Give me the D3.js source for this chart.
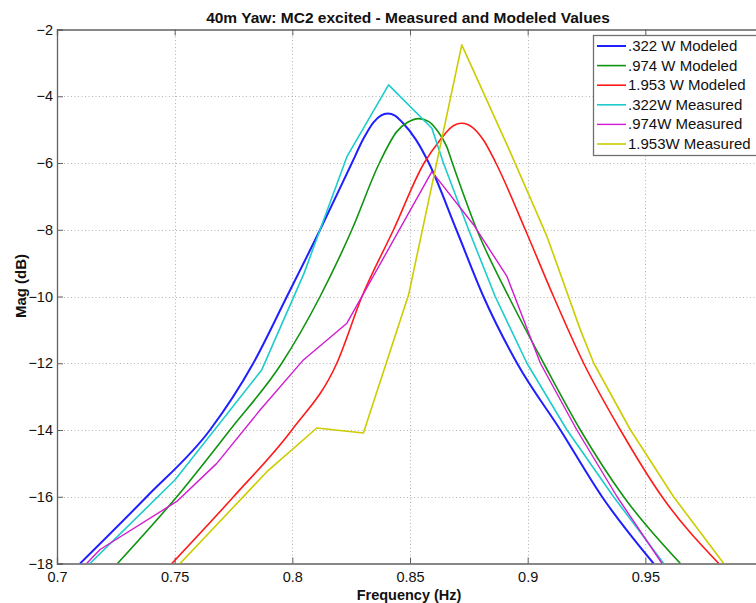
<!DOCTYPE html>
<html>
<head>
<meta charset="utf-8">
<script src="https://cdn.jsdelivr.net/npm/d3@7"></script>
<style>
  body { margin: 0; background: #fff; }
  svg { display: block; font-family: Arial, "Liberation Sans", sans-serif; }
</style>
</head>
<body>
<div id="container"></div>
<script>
// frequency (Hz) / magnitude (dB)
let blueF  = [0.7098, 0.7381, 0.7650, 0.7834, 0.7977, 0.8118, 0.8253, 0.8303, 0.8345, 0.8376, 0.8406, 0.8436, 0.8467, 0.8525, 0.8580, 0.8697, 0.8812, 0.8955, 0.9139, 0.9316, 0.9535];
let blueM  = [-18, -16, -14, -12, -10, -8, -6, -5.26, -4.78, -4.58, -4.52, -4.58, -4.78, -5.3, -6, -8, -10, -12, -14, -16, -18];
let greenF = [0.7257, 0.7509, 0.7735, 0.7955, 0.8118, 0.8253, 0.8370, 0.8444, 0.8490, 0.8537, 0.8580, 0.8614, 0.8656, 0.8680, 0.8784, 0.8919, 0.9068, 0.9224, 0.9408, 0.9649];
let greenM = [-18, -16, -14, -12, -10, -8, -6, -5.06, -4.78, -4.67, -4.76, -5.01, -5.51, -6, -8, -10, -12, -14, -16, -18];
let redF   = [0.7488, 0.7750, 0.7998, 0.8189, 0.8296, 0.8430, 0.8560, 0.8628, 0.8675, 0.8720, 0.8765, 0.8812, 0.8865, 0.8990, 0.9110, 0.9238, 0.9394, 0.9571, 0.9812];
let redM   = [-18, -16, -14, -12, -10, -8, -6, -5.31, -4.93, -4.81, -4.93, -5.31, -6, -8, -10, -12, -14, -16, -18];
let cyanF  = [0.7140, 0.7502, 0.7870, 0.8050, 0.8232, 0.8409, 0.8593, 0.8642, 0.8749, 0.8862, 0.8997, 0.9167, 0.9365, 0.9578];
let cyanM  = [-18, -15.49, -12.2, -9.3, -5.81, -3.66, -4.96, -6, -8, -10, -12, -14, -16, -18];
let magF   = [0.7126, 0.7183, 0.7509, 0.7679, 0.7863, 0.8047, 0.8232, 0.8593, 0.8770, 0.8912, 0.9054, 0.9209, 0.9380, 0.9571];
let magM   = [-18, -17.58, -16.14, -15.0, -13.4, -11.9, -10.8, -6.26, -7.85, -9.4, -12, -14, -16, -18];
let yelF   = [0.7523, 0.7892, 0.8104, 0.8302, 0.8494, 0.8720, 0.8919, 0.9082, 0.9224, 0.9281, 0.9437, 0.9620, 0.9833];
let yelM   = [-18, -15.25, -13.94, -14.09, -9.95, -2.46, -5.56, -8.2, -11.0, -12, -14, -16, -18];

let names  = [".322 W Modeled", ".974 W Modeled", "1.953 W Modeled", ".322W Measured", ".974W Measured", "1.953W Measured"];
let colors = ["#1f1fff", "#109410", "#ff1a1a", "#1ccccc", "#d21ad2", "#cccc00"];
let widths = [2, 1.6, 1.6, 1.6, 1.4, 1.6];
let smooth = [true, true, true, false, false, false];
let xTicks = [0.7, 0.75, 0.8, 0.85, 0.9, 0.95, 1.0];
let yTicks = [-18, -16, -14, -12, -10, -8, -6, -4, -2];

let series = [[blueF, blueM], [greenF, greenM], [redF, redM], [cyanF, cyanM], [magF, magM], [yelF, yelM]];

let w = 756, h = 603;
let pL = 57, pR = 763, pT = 29.5, pB = 563.5;

let svg = d3.select("#container").append("svg")
    .attr("width", w)
    .attr("height", h);

let x = d3.scaleLinear().domain([0.7, 1.0]).range([pL, pR]);
let y = d3.scaleLinear().domain([-18, -2]).range([pB, pT]);

svg.append("defs").append("clipPath").attr("id", "plotclip")
  .append("rect")
    .attr("x", pL).attr("y", pT)
    .attr("width", pR - pL).attr("height", pB - pT);

// grid
let grid = svg.append("g").attr("stroke", "#b4b4b4").attr("stroke-width", 1).attr("stroke-dasharray", "1,2.5");
grid.selectAll(".gx").data(xTicks.slice(1, -1)).join("line")
    .attr("x1", d => Math.round(x(d)) + 0.5).attr("x2", d => Math.round(x(d)) + 0.5)
    .attr("y1", pT).attr("y2", pB);
grid.selectAll(".gy").data(yTicks.slice(1, -1)).join("line")
    .attr("y1", d => Math.round(y(d)) + 0.5).attr("y2", d => Math.round(y(d)) + 0.5)
    .attr("x1", pL).attr("x2", pR);

// axes (the 1.0 label falls off the right edge in the original)
let xAx = d3.axisBottom(x).tickValues(xTicks).tickSize(-6).tickPadding(8).tickFormat(d => d === 1 ? "" : String(d));
let yAx = d3.axisLeft(y).tickValues(yTicks).tickSize(-6).tickPadding(4);

svg.append("g").attr("transform", `translate(0,${pB})`).call(xAx);
svg.append("g").attr("transform", `translate(${pL},0)`).call(yAx);
svg.append("g").attr("transform", `translate(0,${pT})`)
    .call(d3.axisTop(x).tickValues(xTicks).tickSize(-6).tickFormat(""));
svg.selectAll(".domain").attr("stroke", "#606060").attr("stroke-width", 1.3);
svg.selectAll(".tick line").attr("stroke", "#606060");
svg.selectAll(".tick text").attr("font-size", 14.5).attr("fill", "#111").attr("font-family", "Arial, 'Liberation Sans', sans-serif");

// curves
let plot = svg.append("g").attr("clip-path", "url(#plotclip)");
series.forEach((s, i) => {
  let pts = s[0].map((f, k) => [f, s[1][k]]);
  let line = d3.line()
      .x(d => x(d[0]))
      .y(d => y(d[1]))
      .curve(smooth[i] ? d3.curveMonotoneX : d3.curveLinear);
  plot.append("path")
      .datum(pts)
      .attr("d", line)
      .attr("fill", "none")
      .attr("stroke", colors[i])
      .attr("stroke-width", widths[i])
      .attr("stroke-linejoin", "round");
});

// title and labels
svg.append("text")
    .text("40m Yaw: MC2 excited - Measured and Modeled Values")
    .attr("x", 408).attr("y", 23)
    .attr("text-anchor", "middle")
    .attr("font-size", 15.5).attr("font-weight", "bold").attr("fill", "#111");
svg.append("text")
    .text("Frequency (Hz)")
    .attr("x", 409).attr("y", 600)
    .attr("text-anchor", "middle")
    .attr("font-size", 14.5).attr("font-weight", "bold").attr("fill", "#111");
svg.append("text")
    .text("Mag (dB)")
    .attr("transform", "translate(26,286) rotate(-90)")
    .attr("text-anchor", "middle")
    .attr("font-size", 15).attr("font-weight", "bold").attr("fill", "#111");

// legend
let leg = svg.append("g");
leg.append("rect")
    .attr("x", 593.5).attr("y", 35.5)
    .attr("width", 170).attr("height", 120)
    .attr("fill", "#fff").attr("stroke", "#707070").attr("stroke-width", 1.3);
names.forEach((n, i) => {
  let ly = 46 + i * 19.6;
  leg.append("line")
      .attr("x1", 597).attr("x2", 626)
      .attr("y1", ly).attr("y2", ly)
      .attr("stroke", colors[i]).attr("stroke-width", widths[i]);
  leg.append("text")
      .text(n)
      .attr("x", 628).attr("y", ly + 5)
      .attr("font-size", 15).attr("fill", "#111");
});
</script>
</body>
</html>
